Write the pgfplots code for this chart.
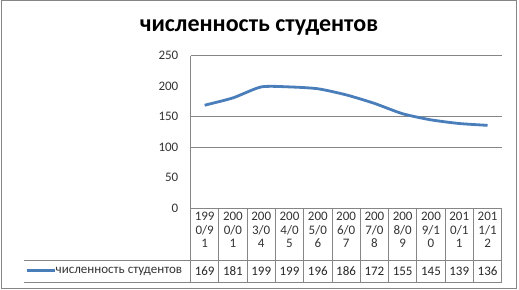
\documentclass[border=0pt]{standalone}
\usepackage{fontspec}
\setmainfont{Carlito}
\usepackage{pgfplots}
\pgfplotsset{compat=1.18}
\definecolor{serblue}{HTML}{4A7EBB}
\definecolor{framegray}{HTML}{868686}
\begin{document}
\begin{tikzpicture}
\useasboundingbox (0pt,0pt) rectangle (519pt,-289pt);
\draw[framegray, line width=0.9pt] (1pt,-0.8pt) rectangle (516.6pt,-288pt);
\node[font=\fontsize{24}{26}\selectfont\bfseries, anchor=center] at (259pt,-28pt) {численность студентов};
\begin{axis}[
  at={(190.5pt,-208.3pt)}, anchor=south west,
  scale only axis, width=311.2pt, height=152.5pt,
  xmin=-0.5, xmax=10.5, ymin=0, ymax=250,
  axis x line=none,
  axis y line*=left,
  axis line style={framegray, line width=0.8pt, -},
  ytick={0,50,100,150,200,250},
  major tick length=0pt,
  /pgf/number format/assume math mode=true,
  yticklabel style={font=\fontsize{13}{13}\selectfont, anchor=east, inner sep=0pt, xshift=-12pt, text=black!80},
  extra y ticks={100,150,250},
  extra y tick labels={},
  extra y tick style={grid=major},
  grid style={framegray, line width=0.8pt},
  xtick={0,...,10},
  clip=false,
]
\addplot[serblue, line width=2.8pt, smooth, tension=0.4] coordinates {
(0,169) (1,181) (2,199) (3,199) (4,196) (5,186) (6,172) (7,155) (8,145) (9,139) (10,136)};
\end{axis}
% data table grid
\draw[framegray, line width=0.8pt] (190.5pt,-208.3pt) -- (501.7pt,-208.3pt);
\draw[framegray, line width=0.8pt] (24pt,-260pt) -- (501.7pt,-260pt);
\draw[framegray, line width=0.8pt] (24pt,-282.6pt) -- (501.7pt,-282.6pt);
\foreach \k in {0,...,11} {
  \draw[framegray, line width=0.8pt] ({190.5pt+28.29pt*\k},-208.3pt) -- ({190.5pt+28.29pt*\k},-282.6pt);
}
\foreach \t [count=\i from 0] in {199,200,200,200,200,200,200,200,200,201,201} {
  \node[font=\fontsize{13}{13}\selectfont, text=black!80, inner sep=0pt] at ({190.5pt+28.29pt*\i+14.15pt},-216.7pt) {\t};
}
\foreach \t [count=\i from 0] in {0/9,0/0,3/0,4/0,5/0,6/0,7/0,8/0,9/1,0/1,1/1} {
  \node[font=\fontsize{13}{13}\selectfont, text=black!80, inner sep=0pt] at ({190.5pt+28.29pt*\i+14.15pt},-230pt) {\t};
}
\foreach \t [count=\i from 0] in {1,1,4,5,6,7,8,9,0,1,2} {
  \node[font=\fontsize{13}{13}\selectfont, text=black!80, inner sep=0pt] at ({190.5pt+28.29pt*\i+14.15pt},-243.3pt) {\t};
}
\foreach \v [count=\i from 0] in {169,181,199,199,196,186,172,155,145,139,136} {
  \node[font=\fontsize{13}{13}\selectfont, text=black!85, inner sep=0pt] at ({190.5pt+28.29pt*\i+14.15pt},-271pt) {\v};
}
\draw[serblue, line width=2.8pt] (27pt,-270.5pt) -- (55pt,-270.5pt);
\node[font=\fontsize{13}{13}\selectfont, text=black!80, anchor=west, inner sep=0pt] at (55.5pt,-271pt) {численность студентов};
\end{tikzpicture}
\end{document}
